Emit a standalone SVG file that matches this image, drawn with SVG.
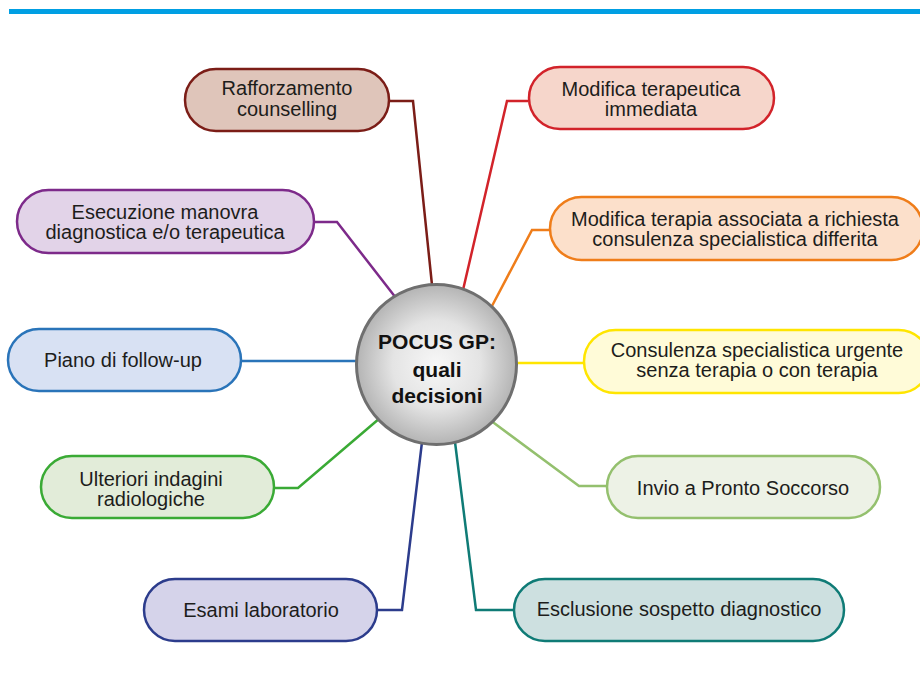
<svg xmlns="http://www.w3.org/2000/svg" width="920" height="686" viewBox="0 0 920 686">
  <defs>
    <radialGradient id="hubFill" cx="50%" cy="50%" r="50%">
      <stop offset="0" stop-color="#f7f7f7"/>
      <stop offset="0.55" stop-color="#e4e4e4"/>
      <stop offset="1" stop-color="#b4b4b4"/>
    </radialGradient>
  </defs>
  <style>
    .lbl { font-family: "Liberation Sans", Arial, sans-serif; font-size: 20px; fill: #1d1d1b; text-anchor: middle; }
    .hub { font-family: "Liberation Sans", Arial, sans-serif; font-size: 21px; font-weight: bold; fill: #111; text-anchor: middle; }
    .box { stroke-width: 2.5; }
    .link { fill: none; stroke-width: 2.5; stroke-linejoin: miter; }
  </style>

  <rect x="0" y="0" width="920" height="686" fill="#ffffff"/>
  <!-- header rule -->
  <rect x="9" y="9" width="911" height="5" fill="#009fe3"/>

  <!-- connectors from the hub to each decision -->
  <g id="connectors">
    <polyline class="link" stroke="#7b1d17" points="390,101 413,101 432,285"/>
    <polyline class="link" stroke="#d2232a" points="528,101 507,101 463,290"/>
    <polyline class="link" stroke="#7d2a8a" points="314,222 337,222 396,298"/>
    <polyline class="link" stroke="#ef7d1a" points="550,230 532,230 492,306"/>
    <polyline class="link" stroke="#2a74b9" points="242,361 360,361"/>
    <polyline class="link" stroke="#ffe500" points="513,363 583,363"/>
    <polyline class="link" stroke="#3aaa35" points="275,488 298,488 380,418"/>
    <polyline class="link" stroke="#94c06e" points="606,486 579,486 490,420"/>
    <polyline class="link" stroke="#2c3c8c" points="378,610 402,610 422,442"/>
    <polyline class="link" stroke="#0f7b76" points="514,610 476,610 455,442"/>
  </g>

  <g id="node-rafforzamento">
    <rect class="box" x="185" y="69" width="204" height="62" rx="31" fill="#dfc5ba" stroke="#7b1d17"/>
    <text class="lbl" x="287" y="95">Rafforzamento</text>
    <text class="lbl" x="287" y="116">counselling</text>
  </g>

  <g id="node-modifica-immediata">
    <rect class="box" x="529" y="67" width="245" height="62" rx="31" fill="#f6d6cb" stroke="#d2232a"/>
    <text class="lbl" x="651" y="96">Modifica terapeutica</text>
    <text class="lbl" x="651" y="116">immediata</text>
  </g>

  <g id="node-esecuzione">
    <rect class="box" x="17" y="190" width="297" height="63" rx="31.5" fill="#e2d3e8" stroke="#7d2a8a"/>
    <text class="lbl" x="165" y="218.5">Esecuzione manovra</text>
    <text class="lbl" x="165" y="238.5">diagnostica e/o terapeutica</text>
  </g>

  <g id="node-modifica-differita">
    <rect class="box" x="550" y="197" width="373" height="63" rx="31.5" fill="#fce0cb" stroke="#ef7d1a"/>
    <text class="lbl" x="735" y="226">Modifica terapia associata a richiesta</text>
    <text class="lbl" x="735" y="246">consulenza specialistica differita</text>
  </g>

  <g id="node-follow-up">
    <rect class="box" x="8" y="329" width="233" height="62" rx="31" fill="#d8e1f3" stroke="#2a74b9"/>
    <text class="lbl" x="123" y="367">Piano di follow-up</text>
  </g>

  <g id="node-consulenza-urgente">
    <rect class="box" x="584" y="330" width="346" height="63" rx="31.5" fill="#fffbd8" stroke="#ffe500"/>
    <text class="lbl" x="757" y="357">Consulenza specialistica urgente</text>
    <text class="lbl" x="757" y="377">senza terapia o con terapia</text>
  </g>

  <g id="node-radiologiche">
    <rect class="box" x="41" y="456" width="233" height="62" rx="31" fill="#e2ecd9" stroke="#3aaa35"/>
    <text class="lbl" x="151" y="485.5">Ulteriori indagini</text>
    <text class="lbl" x="151" y="505.5">radiologiche</text>
  </g>

  <g id="node-pronto-soccorso">
    <rect class="box" x="607" y="456" width="273" height="62" rx="31" fill="#edf2e6" stroke="#94c06e"/>
    <text class="lbl" x="743" y="495">Invio a Pronto Soccorso</text>
  </g>

  <g id="node-laboratorio">
    <rect class="box" x="144" y="579" width="233" height="62" rx="31" fill="#d5d3ea" stroke="#2c3c8c"/>
    <text class="lbl" x="261" y="617">Esami laboratorio</text>
  </g>

  <g id="node-esclusione">
    <rect class="box" x="514" y="579" width="330" height="62" rx="31" fill="#cde0e0" stroke="#0f7b76"/>
    <text class="lbl" x="679" y="616">Esclusione sospetto diagnostico</text>
  </g>

  <g id="node-hub">
    <circle cx="436.5" cy="364.5" r="80" fill="url(#hubFill)" stroke="#6f6f6f" stroke-width="3"/>
    <text class="hub" x="437" y="349">POCUS GP:</text>
    <text class="hub" x="437" y="377">quali</text>
    <text class="hub" x="437" y="403">decisioni</text>
  </g>
</svg>
